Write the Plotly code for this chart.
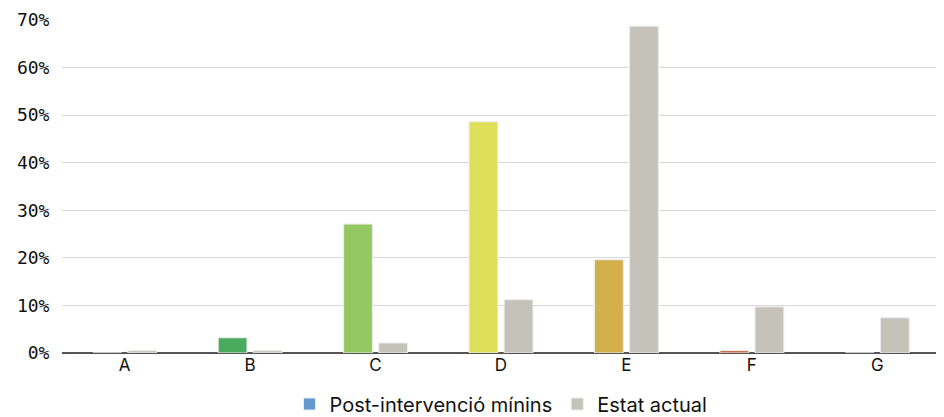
import plotly.graph_objects as go

categories = ["A", "B", "C", "D", "E", "F", "G"]
post_values = [0.0, 0.032, 0.271, 0.486, 0.196, 0.005, 0.0]
actual_values = [0.005, 0.005, 0.021, 0.112, 0.687, 0.097, 0.074]
post_colors = ["#6399cf", "#4aab5e", "#93c960", "#e0df5c", "#d4b04c", "#c8653a", "#c8653a"]
actual_color = "#c5c2b9"
y_ticks = [0, 0.1, 0.2, 0.3, 0.4, 0.5, 0.6, 0.7]

fig = go.Figure()
fig.add_trace(go.Bar(
    x=categories, y=post_values, name="Post-intervenció mínins",
    marker=dict(color=post_colors, line=dict(color="#ececec", width=1)),
))
fig.add_trace(go.Bar(
    x=categories, y=actual_values, name="Estat actual",
    marker=dict(color=actual_color, line=dict(color="#ececec", width=1)),
))

# page body has an 8px margin, so the figure is sized to fit the window
fig.update_layout(
    width=936, height=409,
    margin=dict(l=54, r=4, t=12, b=64),
    plot_bgcolor="white", paper_bgcolor="white",
    barmode="group", bargap=0.44, bargroupgap=0.18,
    font=dict(family="Inter, Roboto, sans-serif", color="#111"),
    xaxis=dict(tickfont=dict(size=17), showgrid=False, ticks="", automargin=False),
    yaxis=dict(
        range=[0, 0.7], tickvals=y_ticks, tickformat=".0%",
        tickfont=dict(family="DejaVu Sans Mono", size=18),
        gridcolor="#d9d9d9", gridwidth=1,
        zeroline=True, zerolinecolor="#555", zerolinewidth=2,
        ticklen=8, tickcolor="white", ticks="outside", automargin=False,
        ticklabeloverflow="allow",
    ),
    legend=dict(orientation="h", x=0.5, xanchor="center",
                yref="container", y=13 / 409, yanchor="middle",
                font=dict(size=20), itemwidth=30, traceorder="normal"),
)

fig.write_html("out.html")
